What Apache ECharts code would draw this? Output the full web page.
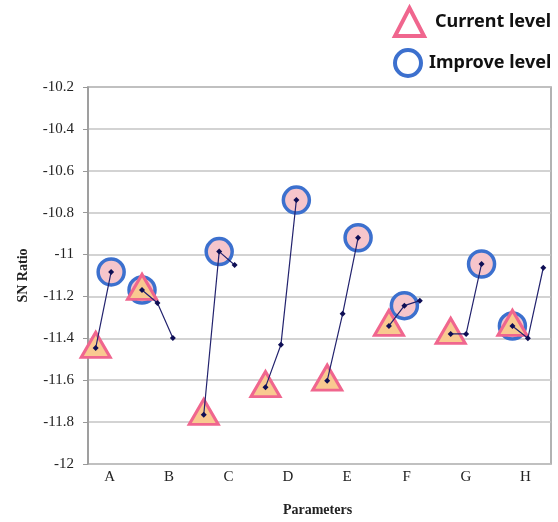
<!DOCTYPE html>
<html>
<head>
<meta charset="UTF-8">
<title>SN Ratio by parameter</title>
<script src="https://cdn.jsdelivr.net/npm/echarts@6/dist/echarts.min.js"></script>
<style>
  html, body { margin: 0; padding: 0; background: #fff; }
</style>
</head>
<body>
<div id="main" style="width:558px;height:522px;"></div>
<script>
// parameters (A has 2 levels, B-H have 3 levels)
var parameters = ['A', 'B', 'C', 'D', 'E', 'F', 'G', 'H'];
// SN ratio of every level
var levelValues = [
  [-11.446, -11.083],
  [-11.169, -11.231, -11.398],
  [-11.765, -10.986, -11.050],
  [-11.633, -11.431, -10.740],
  [-11.602, -11.283, -10.920],
  [-11.341, -11.244, -11.220],
  [-11.379, -11.379, -11.045],
  [-11.341, -11.400, -11.063]
];
// level index (0-based) of current and improved setting
var currentLevel = [0, 0, 0, 0, 0, 0, 0, 0];
var improveLevel = [1, 0, 1, 2, 2, 1, 2, 0];
var yTicks = { min: -12, max: -10.2, interval: 0.2 };

// lay out the points: one slot per level, one empty slot between parameters
var slots = [], lineData = [], slotStart = [];
levelValues.forEach(function (vals, p) {
  if (p > 0) { slots.push(''); lineData.push(null); }
  slotStart.push(slots.length);
  vals.forEach(function (v, i) {
    slots.push(parameters[p] + (i + 1));
    lineData.push(v);
  });
});
var currentData = currentLevel.map(function (l, p) {
  return [slotStart[p] + l, levelValues[p][l]];
});
var improveData = improveLevel.map(function (l, p) {
  return [slotStart[p] + l, levelValues[p][l]];
});

var serif = '"Liberation Serif", "Times New Roman", serif';
var chart = echarts.init(document.getElementById('main'));
chart.setOption({
  animation: false,
  legend: [{
    left: 393, top: 6, padding: 0,
    itemWidth: 29, itemHeight: 28,
    selectedMode: false,
    textStyle: { fontFamily: 'Noto Sans', fontWeight: 'bold', fontSize: 18, color: '#111', padding: [0, 0, 0, 6] },
    data: [{ name: 'Current level', icon: 'triangle',
      itemStyle: { color: 'rgba(0,0,0,0)', borderColor: '#F0668E', borderWidth: 4 } }]
  }, {
    left: 393, top: 48, padding: 0,
    itemWidth: 26, itemHeight: 26,
    selectedMode: false,
    textStyle: { fontFamily: 'Noto Sans', fontWeight: 'bold', fontSize: 18, color: '#111', padding: [0, 0, 0, 3] },
    data: [{ name: 'Improve level', icon: 'circle',
      itemStyle: { color: 'rgba(0,0,0,0)', borderColor: '#3C70CE', borderWidth: 4 } }]
  }],
  grid: [
    { left: 88, right: 7, top: 87, bottom: 58, show: true, borderColor: '#999', borderWidth: 1.5 },
    { left: 80, width: 475, top: 87, bottom: 58 }
  ],
  xAxis: [{
    type: 'category', gridIndex: 0, data: slots, boundaryGap: true,
    axisLine: { show: false }, axisTick: { show: false }, axisLabel: { show: false }
  }, {
    type: 'category', gridIndex: 1, data: parameters,
    axisLine: { show: false }, axisTick: { show: false },
    axisLabel: { fontFamily: serif, fontSize: 15, color: '#222', margin: 23 },
    name: 'Parameters', nameLocation: 'middle', nameGap: 56,
    nameTextStyle: { fontFamily: serif, fontWeight: 'bold', fontSize: 14, color: '#222' }
  }],
  yAxis: [{
    type: 'value', gridIndex: 0,
    min: yTicks.min, max: yTicks.max, interval: yTicks.interval,
    axisLine: { show: true, lineStyle: { color: '#999', width: 1.5 } },
    axisTick: { show: true, length: 5, lineStyle: { color: '#999' } },
    splitLine: { lineStyle: { color: '#c4c4c4', width: 1.5 } },
    axisLabel: { fontFamily: serif, fontSize: 15, color: '#222', margin: 14,
      formatter: function (v) { return String(Math.round(v * 10) / 10); } },
    name: 'SN Ratio', nameLocation: 'middle', nameGap: 58,
    nameTextStyle: { fontFamily: serif, fontWeight: 'bold', fontSize: 14, color: '#222' }
  }, {
    type: 'value', gridIndex: 1, show: false, min: 0, max: 1
  }],
  series: [{
    name: 'Improve level', type: 'scatter', xAxisIndex: 0, yAxisIndex: 0, z: 2,
    symbol: 'circle', symbolSize: 26,
    itemStyle: { color: '#F6C5CB', borderColor: '#3C70CE', borderWidth: 3.5, opacity: 1 },
    data: improveData
  }, {
    name: 'Current level', type: 'scatter', xAxisIndex: 0, yAxisIndex: 0, z: 3,
    symbol: 'triangle', symbolSize: [29, 25], symbolOffset: [0, -3],
    itemStyle: { color: '#F9C990', borderColor: '#F0668E', borderWidth: 3, opacity: 1 },
    data: currentData
  }, {
    name: 'levels', type: 'line', xAxisIndex: 0, yAxisIndex: 0, z: 4,
    connectNulls: false,
    symbol: 'diamond', symbolSize: 6, showAllSymbol: true,
    lineStyle: { color: '#23236E', width: 1.2 },
    itemStyle: { color: '#0E0E55' },
    data: lineData
  }]
});
</script>
</body>
</html>
